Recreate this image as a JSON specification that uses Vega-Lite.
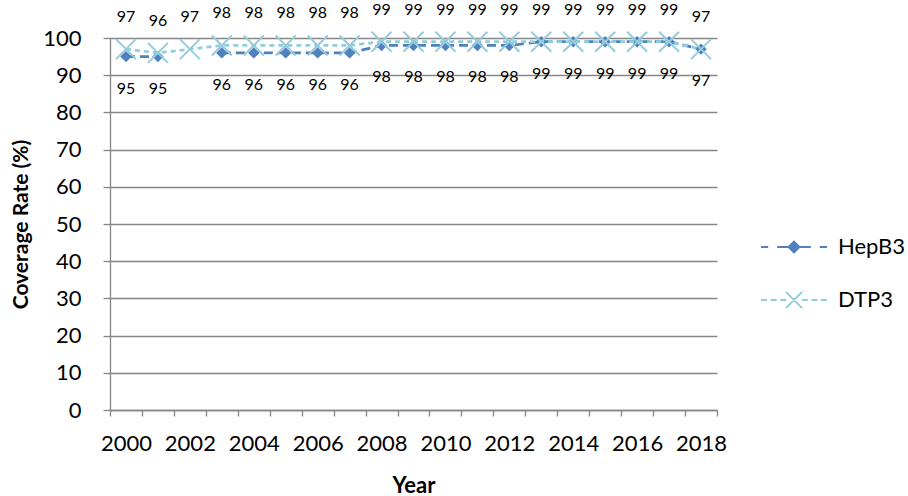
{
  "$schema": "https://vega.github.io/schema/vega-lite/v6.json",
  "width": 607,
  "height": 372,
  "autosize": {"type": "none"},
  "padding": {"left": 110, "top": 38, "right": 191, "bottom": 86},
  "background": "white",
  "config": {
    "view": {"stroke": null},
    "font": "Lato",
    "text": {"font": "Lato"}
  },
  "data": {
    "values": [
      {"year": 2000, "series": "HepB3", "value": 95},
      {"year": 2001, "series": "HepB3", "value": 95},
      {"year": 2002, "series": "HepB3", "value": null},
      {"year": 2003, "series": "HepB3", "value": 96},
      {"year": 2004, "series": "HepB3", "value": 96},
      {"year": 2005, "series": "HepB3", "value": 96},
      {"year": 2006, "series": "HepB3", "value": 96},
      {"year": 2007, "series": "HepB3", "value": 96},
      {"year": 2008, "series": "HepB3", "value": 98},
      {"year": 2009, "series": "HepB3", "value": 98},
      {"year": 2010, "series": "HepB3", "value": 98},
      {"year": 2011, "series": "HepB3", "value": 98},
      {"year": 2012, "series": "HepB3", "value": 98},
      {"year": 2013, "series": "HepB3", "value": 99},
      {"year": 2014, "series": "HepB3", "value": 99},
      {"year": 2015, "series": "HepB3", "value": 99},
      {"year": 2016, "series": "HepB3", "value": 99},
      {"year": 2017, "series": "HepB3", "value": 99},
      {"year": 2018, "series": "HepB3", "value": 97},
      {"year": 2000, "series": "DTP3", "value": 97},
      {"year": 2001, "series": "DTP3", "value": 96},
      {"year": 2002, "series": "DTP3", "value": 97},
      {"year": 2003, "series": "DTP3", "value": 98},
      {"year": 2004, "series": "DTP3", "value": 98},
      {"year": 2005, "series": "DTP3", "value": 98},
      {"year": 2006, "series": "DTP3", "value": 98},
      {"year": 2007, "series": "DTP3", "value": 98},
      {"year": 2008, "series": "DTP3", "value": 99},
      {"year": 2009, "series": "DTP3", "value": 99},
      {"year": 2010, "series": "DTP3", "value": 99},
      {"year": 2011, "series": "DTP3", "value": 99},
      {"year": 2012, "series": "DTP3", "value": 99},
      {"year": 2013, "series": "DTP3", "value": 99},
      {"year": 2014, "series": "DTP3", "value": 99},
      {"year": 2015, "series": "DTP3", "value": 99},
      {"year": 2016, "series": "DTP3", "value": 99},
      {"year": 2017, "series": "DTP3", "value": 99},
      {"year": 2018, "series": "DTP3", "value": 97}
    ]
  },
  "encoding": {
    "x": {
      "field": "year",
      "type": "quantitative",
      "scale": {"domain": [1999.5, 2018.5], "nice": false, "zero": false},
      "axis": {
        "values": [1999.5, 2000.5, 2001.5, 2002.5, 2003.5, 2004.5, 2005.5, 2006.5, 2007.5, 2008.5, 2009.5, 2010.5, 2011.5, 2012.5, 2013.5, 2014.5, 2015.5, 2016.5, 2017.5, 2018.5],
        "labelExpr": "((datum.value + 0.5) % 2 == 0 && datum.value < 2018) ? format(datum.value + 0.5, 'd') : ''",
        "labelOffset": 15.97,
        "labelFlush": false,
        "labelOverlap": false,
        "labelBound": false,
        "grid": false,
        "domainColor": "#868686",
        "domainWidth": 1.3,
        "tickColor": "#868686",
        "tickWidth": 1.3,
        "tickSize": 6,
        "labelPadding": 17,
        "labelFontSize": 22,
        "labelColor": "black",
        "labelFont": "Lato",
        "title": "Year",
        "titleFont": "Lato",
        "titleFontSize": 22,
        "titleFontWeight": "bold",
        "titleColor": "black",
        "titlePadding": 21
      }
    },
    "y": {
      "field": "value",
      "type": "quantitative",
      "scale": {"domain": [0, 100], "nice": false},
      "axis": {
        "values": [0, 10, 20, 30, 40, 50, 60, 70, 80, 90, 100],
        "grid": true,
        "gridColor": "#868686",
        "gridWidth": 1.3,
        "domainColor": "#868686",
        "domainWidth": 1.3,
        "tickColor": "#868686",
        "tickWidth": 1.3,
        "tickSize": 7,
        "labelPadding": 22,
        "labelFontSize": 22,
        "labelColor": "black",
        "labelFont": "Lato",
        "title": "Coverage Rate (%)",
        "titleFont": "Lato",
        "titleFontSize": 21,
        "titleFontWeight": "bold",
        "titleColor": "black",
        "titlePadding": 11
      }
    }
  },
  "layer": [
    {
      "transform": [{"filter": "datum.series == 'HepB3'"}],
      "mark": {"type": "line", "color": "#4F81BD", "strokeDash": [9, 5], "strokeWidth": 2.75, "invalid": "break-paths-show-domains"}
    },
    {
      "transform": [{"filter": "datum.series == 'HepB3' && isValid(datum.value)"}],
      "mark": {"type": "point", "shape": "diamond", "filled": true, "color": "#4F81BD", "size": 130, "opacity": 1}
    },
    {
      "transform": [{"filter": "datum.series == 'DTP3'"}],
      "mark": {"type": "line", "color": "#93CDDD", "strokeDash": [5, 4], "strokeWidth": 2.75}
    },
    {
      "transform": [{"filter": "datum.series == 'DTP3'"}],
      "mark": {"type": "point", "shape": "M-1,-1L1,1M1,-1L-1,1", "filled": false, "color": "#93CDDD", "size": 400, "strokeWidth": 2, "opacity": 1}
    },
    {
      "transform": [{"filter": "datum.series == 'HepB3' && isValid(datum.value)"}],
      "mark": {"type": "text", "dy": 32, "fontSize": 16, "color": "black", "font": "Lato"},
      "encoding": {"text": {"field": "value", "type": "quantitative"}}
    },
    {
      "transform": [{"filter": "datum.series == 'DTP3'"}],
      "mark": {"type": "text", "dy": -32, "fontSize": 16, "color": "black", "font": "Lato"},
      "encoding": {"text": {"field": "value", "type": "quantitative"}}
    },
    {
      "transform": [{"filter": "isValid(datum.value)"}],
      "mark": {"type": "point", "opacity": 0, "filled": false},
      "encoding": {
        "color": {
          "field": "series",
          "type": "nominal",
          "scale": {"domain": ["HepB3", "DTP3"], "range": ["#4F81BD", "#93CDDD"]},
          "legend": {
            "title": null,
            "orient": "none",
            "legendX": 673,
            "legendY": 198,
            "symbolSize": 144,
            "symbolStrokeWidth": 2,
            "symbolOpacity": 1,
            "labelFontSize": 22,
            "labelFont": "Lato",
            "labelColor": "black",
            "labelOffset": 33,
            "rowPadding": 29
          }
        },
        "shape": {
          "field": "series",
          "type": "nominal",
          "scale": {
            "domain": ["HepB3", "DTP3"],
            "range": [
              "M-5.5,0L-4.3,0M-2.8,0L-1,0M0.9,0L2.8,0M4.3,0L5.5,0M0,-0.9L0.9,0L0,0.9L-0.9,0ZM0,-0.65L0.65,0L0,0.65L-0.65,0ZM0,-0.4L0.4,0L0,0.4L-0.4,0ZM0,-0.15L0.15,0L0,0.15L-0.15,0Z",
              "M-5.5,0L-4.5,0M-3.9,0L-2.9,0M-2.3,0L-1.3,0M1.3,0L2.3,0M2.9,0L3.9,0M4.5,0L5.5,0M-1.35,-1.35L1.35,1.35M1.35,-1.35L-1.35,1.35"
            ]
          }
        }
      }
    }
  ]
}
